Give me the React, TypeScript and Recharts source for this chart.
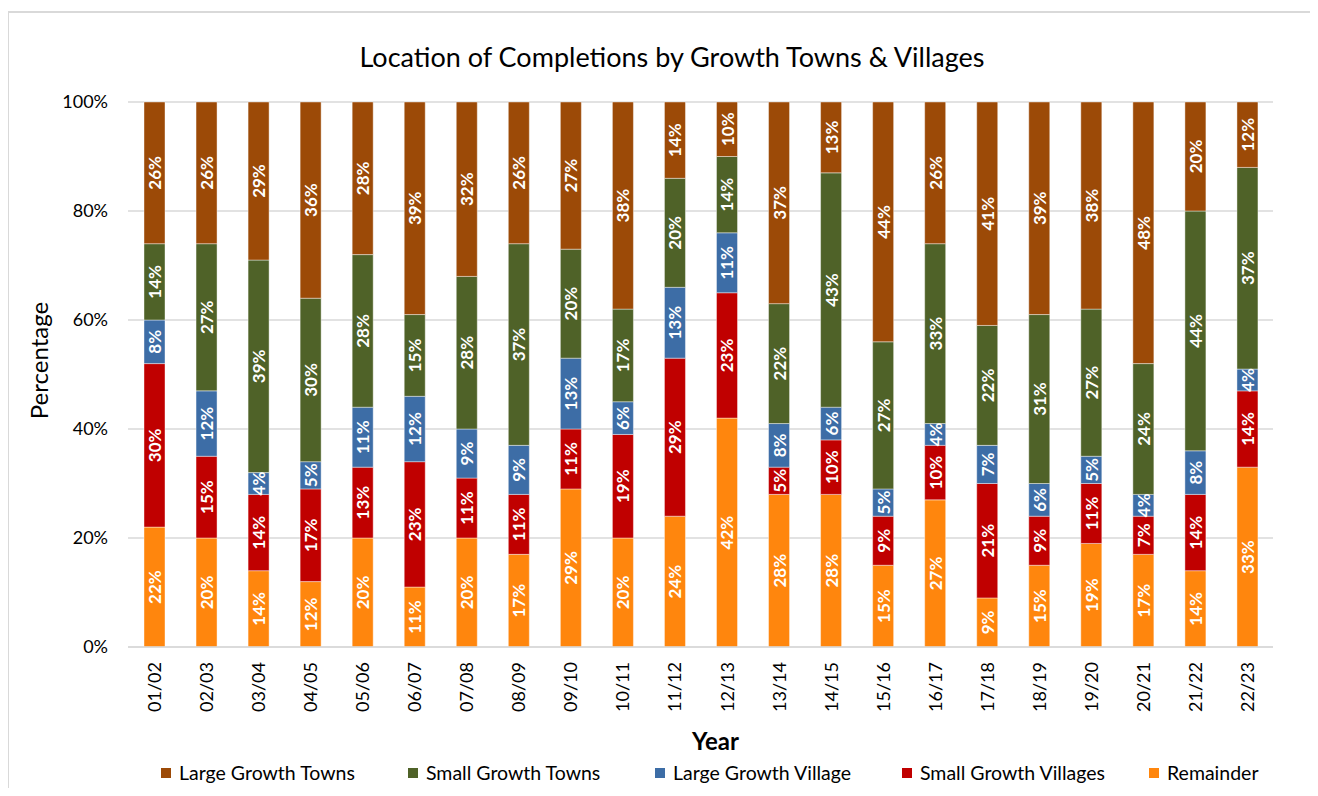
import React from "react";
import { Bar, BarChart, CartesianGrid, LabelList, Legend, XAxis, YAxis } from "recharts";

const years = [
  "01/02", "02/03", "03/04", "04/05", "05/06", "06/07", "07/08", "08/09", "09/10", "10/11", "11/12",
  "12/13", "13/14", "14/15", "15/16", "16/17", "17/18", "18/19", "19/20", "20/21", "21/22", "22/23",
];

const remainder = [22, 20, 14, 12, 20, 11, 20, 17, 29, 20, 24, 42, 28, 28, 15, 27, 9, 15, 19, 17, 14, 33];
const smallGrowthVillages = [30, 15, 14, 17, 13, 23, 11, 11, 11, 19, 29, 23, 5, 10, 9, 10, 21, 9, 11, 7, 14, 14];
const largeGrowthVillage = [8, 12, 4, 5, 11, 12, 9, 9, 13, 6, 13, 11, 8, 6, 5, 4, 7, 6, 5, 4, 8, 4];
const smallGrowthTowns = [14, 27, 39, 30, 28, 15, 28, 37, 20, 17, 20, 14, 22, 43, 27, 33, 22, 31, 27, 24, 44, 37];
const largeGrowthTowns = [26, 26, 29, 36, 28, 39, 32, 26, 27, 38, 14, 10, 37, 13, 44, 26, 41, 39, 38, 48, 20, 12];

const yTicks = [0, 20, 40, 60, 80, 100];

// stacking order, bottom to top
const SERIES = [
  { key: "remainder", name: "Remainder", color: "#FF860D" },
  { key: "smallVillages", name: "Small Growth Villages", color: "#C00000" },
  { key: "largeVillage", name: "Large Growth Village", color: "#3D6DA6" },
  { key: "smallTowns", name: "Small Growth Towns", color: "#4F6228" },
  { key: "largeTowns", name: "Large Growth Towns", color: "#9C4A07" },
];

const data = years.map((year, i) => ({
  year,
  remainder: remainder[i],
  smallVillages: smallGrowthVillages[i],
  largeVillage: largeGrowthVillage[i],
  smallTowns: smallGrowthTowns[i],
  largeTowns: largeGrowthTowns[i],
}));

const FONT = "Lato, 'Open Sans', sans-serif";

const SegmentLabel = (props: any) => {
  const { x, y, width, height, value } = props;
  const cx = x + width / 2;
  const cy = y + height / 2;
  return (
    <text
      x={cx}
      y={cy}
      transform={`rotate(-90, ${cx}, ${cy})`}
      textAnchor="middle"
      dominantBaseline="central"
      fill="#fff"
      fontWeight={700}
      fontSize={17}
      fontFamily={FONT}
    >
      {`${value}%`}
    </text>
  );
};

const YearTick = (props: any) => {
  const { x, y, payload } = props;
  return (
    <text
      x={x}
      y={y}
      transform={`rotate(-90, ${x}, ${y})`}
      textAnchor="end"
      dominantBaseline="central"
      fill="#000"
      fontSize={18}
      fontFamily={FONT}
    >
      {payload.value}
    </text>
  );
};

const renderLegend = () => (
  <div style={{ display: "flex", fontFamily: FONT, fontSize: 19.5, color: "#000" }}>
    {[...SERIES].reverse().map((s) => (
      <div key={s.key} style={{ width: 247, display: "flex", alignItems: "center" }}>
        <span style={{ width: 10, height: 10, background: s.color, marginRight: 8, display: "inline-block" }} />
        {s.name}
      </div>
    ))}
  </div>
);

export default function App() {
  return (
    <div style={{ position: "relative", width: 1318, height: 796, margin: -8, background: "#fff", overflow: "hidden" }}>
      <div
        style={{
          position: "absolute",
          left: 7,
          top: 11,
          width: 1400,
          height: 900,
          borderTop: "2px solid #d9d9d9",
          borderLeft: "2px solid #d9d9d9",
          boxSizing: "border-box",
        }}
      />
      <div
        style={{
          position: "absolute",
          left: 0,
          width: 1344,
          top: 40,
          textAlign: "center",
          fontFamily: FONT,
          fontSize: 27,
          color: "#000",
        }}
      >
        Location of Completions by Growth Towns &amp; Villages
      </div>
      <BarChart
        width={1318}
        height={796}
        data={data}
        margin={{ top: 102, right: 45, bottom: 44, left: 7 }}
        barSize={21}
        style={{ position: "absolute", left: 0, top: 0 }}
      >
        <CartesianGrid vertical={false} stroke="#d9d9d9" strokeWidth={1.5} />
        <XAxis
          dataKey="year"
          height={105}
          tickLine={false}
          tickMargin={9}
          axisLine={{ stroke: "#d9d9d9", strokeWidth: 1.5 }}
          tick={<YearTick />}
          interval={0}
          label={{
            value: "Year",
            position: "insideBottom",
            offset: 2,
            dx: 15,
            fill: "#000",
            fontSize: 24,
            fontWeight: 700,
            fontFamily: FONT,
          }}
        />
        <YAxis
          width={121}
          domain={[0, 100]}
          ticks={yTicks}
          tickFormatter={(v: number) => `${v}%`}
          tickLine={false}
          tickMargin={14}
          axisLine={false}
          tick={{ fill: "#000", fontSize: 18, fontFamily: FONT }}
          label={{
            value: "Percentage",
            angle: -90,
            position: "insideLeft",
            offset: 32,
            dy: -14,
            fill: "#000",
            fontSize: 24,
            fontFamily: FONT,
            style: { textAnchor: "middle" },
          }}
        />
        <Legend
          layout="horizontal"
          verticalAlign="middle"
          align="center"
          content={renderLegend}
          wrapperStyle={{ left: 161, top: 761, width: 1250 }}
        />
        {SERIES.map((s) => (
          <Bar
            key={s.key}
            dataKey={s.key}
            name={s.name}
            stackId="a"
            fill={s.color}
            stroke="rgba(255,255,255,0.55)"
            strokeWidth={0.75}
            isAnimationActive={false}
          >
            <LabelList dataKey={s.key} content={<SegmentLabel />} />
          </Bar>
        ))}
      </BarChart>
    </div>
  );
}
